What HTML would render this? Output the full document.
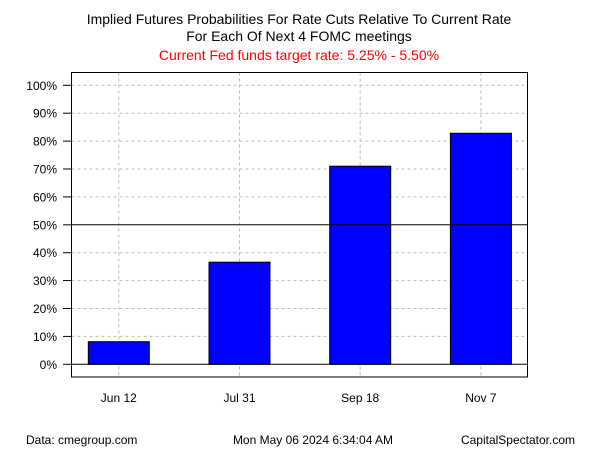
<!DOCTYPE html>
<html><head><meta charset="utf-8"><style>
body{margin:0;background:#fff;width:600px;height:450px;overflow:hidden;font-family:"Liberation Sans",sans-serif}
</style></head><body>
<svg width="600" height="450" font-family="Liberation Sans, sans-serif">
<text x="299" y="24" text-anchor="middle" font-size="14">Implied Futures Probabilities For Rate Cuts Relative To Current Rate</text>
<text x="299" y="41" text-anchor="middle" font-size="14">For Each Of Next 4 FOMC meetings</text>
<text x="299" y="60" text-anchor="middle" font-size="14" fill="#f00">Current Fed funds target rate: 5.25% - 5.50%</text>
<g id="grid"></g>
<g id="bars"></g>
<g id="axes"></g>
<rect x="71.5" y="72.5" width="456" height="304.5" fill="none" stroke="#000"/>
<text x="26" y="444" font-size="12">Data: cmegroup.com</text>
<text x="313" y="444" text-anchor="middle" font-size="12">Mon May 06 2024 6:34:04 AM</text>
<text x="575" y="444" text-anchor="end" font-size="12">CapitalSpectator.com</text>
</svg>
<script>
const categories=["Jun 12","Jul 31","Sep 18","Nov 7"];
const values=[8.1,36.6,71,82.8];
const yTicks=[0,10,20,30,40,50,60,70,80,90,100];
const NS="http://www.w3.org/2000/svg";
const y=v=>364.3-v*2.79;
const x=i=>118.8+i*120.7;
function mk(t,a,p){const e=document.createElementNS(NS,t);for(const k in a)e.setAttribute(k,a[k]);p.appendChild(e);return e;}
const grid=document.getElementById('grid'),bars=document.getElementById('bars'),axes=document.getElementById('axes');
yTicks.forEach(v=>{
 const g=mk('line',{x1:71.5,x2:527.5,y1:y(v),y2:y(v),stroke:v===0||v===50?'#000':'#bbb','stroke-dasharray':v===0||v===50?'':'3,3'},v===0||v===50?axes:grid);
 
 
 const t=mk('line',{x1:63,x2:71.5,y1:y(v),y2:y(v),stroke:'#000'},axes);
 
 
 const l=mk('text',{x:57,y:y(v)+4.5,'text-anchor':'end','font-size':12},axes);
 l.textContent=v+'%';
 
 
});
categories.forEach((c,i)=>{
 const vg=mk('line',{x1:x(i),x2:x(i),y1:72.5,y2:377,stroke:'#bbb','stroke-dasharray':'3,3'},grid);
 
 
 const b=mk('rect',{x:x(i)-30.5,y:y(values[i]),width:61,height:y(0)-y(values[i]),fill:'#00f',stroke:'#000'},bars);
 
 
 const l=mk('text',{x:x(i),y:402,'text-anchor':'middle','font-size':12},axes);
 l.textContent=c;
 
 
});
</script>
</body></html>
